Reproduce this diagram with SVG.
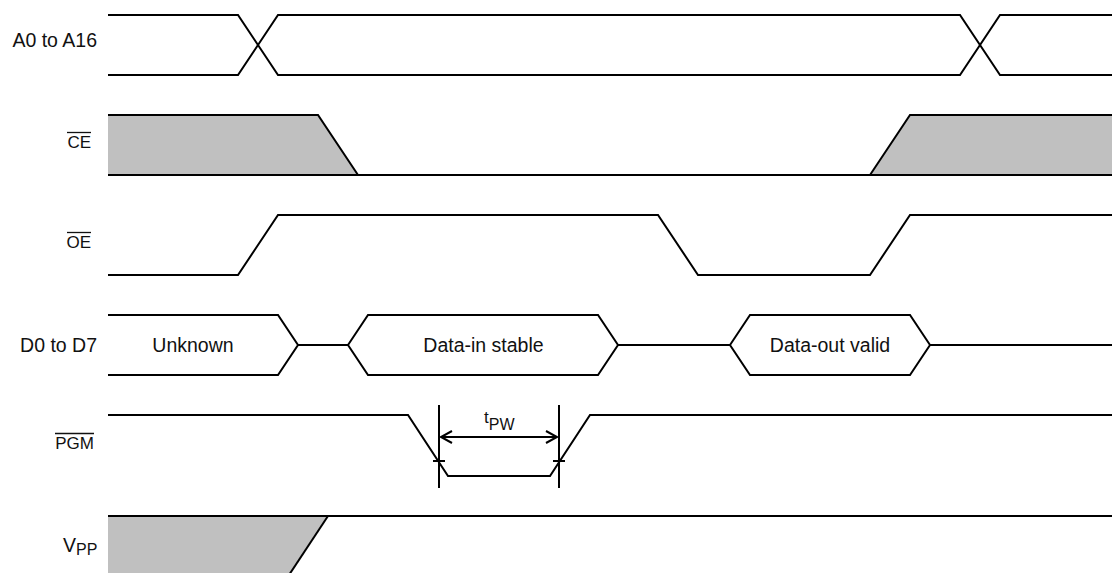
<svg xmlns="http://www.w3.org/2000/svg" width="1112" height="573" viewBox="0 0 1112 573">
<style>
.w{fill:none;stroke:#000;stroke-width:2;stroke-linejoin:miter}
.g{fill:#c0c0c0;stroke:none}
.lbl{font-family:"Liberation Sans",Arial,sans-serif;font-size:19.5px;fill:#111}
.sm{font-family:"Liberation Sans",Arial,sans-serif;font-size:17px;fill:#111}
.ov{stroke:#111;stroke-width:1.3}
</style>
<rect width="1112" height="573" fill="#fff"/>
<g id="labels">
<text class="lbl" x="97" y="47" text-anchor="end">A0 to A16</text>
<text class="sm" x="91" y="148" text-anchor="end">CE</text>
<line class="ov" x1="67" y1="132.5" x2="91" y2="132.5"/>
<text class="sm" x="91" y="248" text-anchor="end">OE</text>
<line class="ov" x1="67" y1="232.5" x2="91" y2="232.5"/>
<text class="lbl" x="97" y="352" text-anchor="end">D0 to D7</text>
<text class="sm" x="94" y="449" text-anchor="end">PGM</text>
<line class="ov" x1="55" y1="433.5" x2="94" y2="433.5"/>
<text class="lbl" x="63" y="552">V<tspan font-size="16" dy="3">PP</tspan></text>
</g>
<g id="sig-addr">
<path class="w" d="M108 15H238L278 75H960L1000 15H1112"/>
<path class="w" d="M108 75H238L278 15H960L1000 75H1112"/>
</g>
<g id="sig-ce">
<path class="g" d="M108 115H318L358 175H108Z"/>
<path class="g" d="M870 175L910 115H1112V175Z"/>
<path class="w" d="M108 115H318L358 175"/>
<path class="w" d="M108 175H1112"/>
<path class="w" d="M870 175L910 115H1112"/>
</g>
<g id="sig-oe">
<path class="w" d="M108 275H238L278 215H658L698 275H870L910 215H1112"/>
</g>
<g id="sig-data">
<path class="w" d="M108 315H278L298 345L278 375H108"/>
<path class="w" d="M298 345H348"/>
<path class="w" d="M348 345L368 315H598L618 345L598 375H368Z"/>
<path class="w" d="M618 345H730"/>
<path class="w" d="M730 345L750 315H910L930 345L910 375H750Z"/>
<path class="w" d="M930 345H1112"/>
<text class="lbl" x="193" y="352" text-anchor="middle">Unknown</text>
<text class="lbl" x="483.5" y="352" text-anchor="middle">Data-in stable</text>
<text class="lbl" x="830" y="352" text-anchor="middle">Data-out valid</text>
</g>
<g id="sig-pgm">
<path class="w" d="M108 415H408L448 476H550L590 415H1112"/>
</g>
<g id="sig-vpp">
<path class="g" d="M108 516H328L290 573H108Z"/>
<path class="w" d="M108 516H1112"/>
<path class="w" d="M328 516L289 575"/>
</g>
<g id="timing-tpw">
<line class="w" x1="439" y1="405" x2="439" y2="488"/>
<line class="w" x1="559" y1="405" x2="559" y2="488"/>
<line class="w" x1="441" y1="437" x2="557" y2="437"/>
<path class="w" d="M452 431L441 437L452 443"/>
<path class="w" d="M546 431L557 437L546 443"/>
<line class="w" x1="433" y1="461" x2="445" y2="461" stroke-width="1.5"/>
<line class="w" x1="553" y1="461" x2="565" y2="461" stroke-width="1.5"/>
<text class="sm" x="484" y="423" font-size="18">t<tspan font-size="16" dy="7">PW</tspan></text>
</g>
</svg>
